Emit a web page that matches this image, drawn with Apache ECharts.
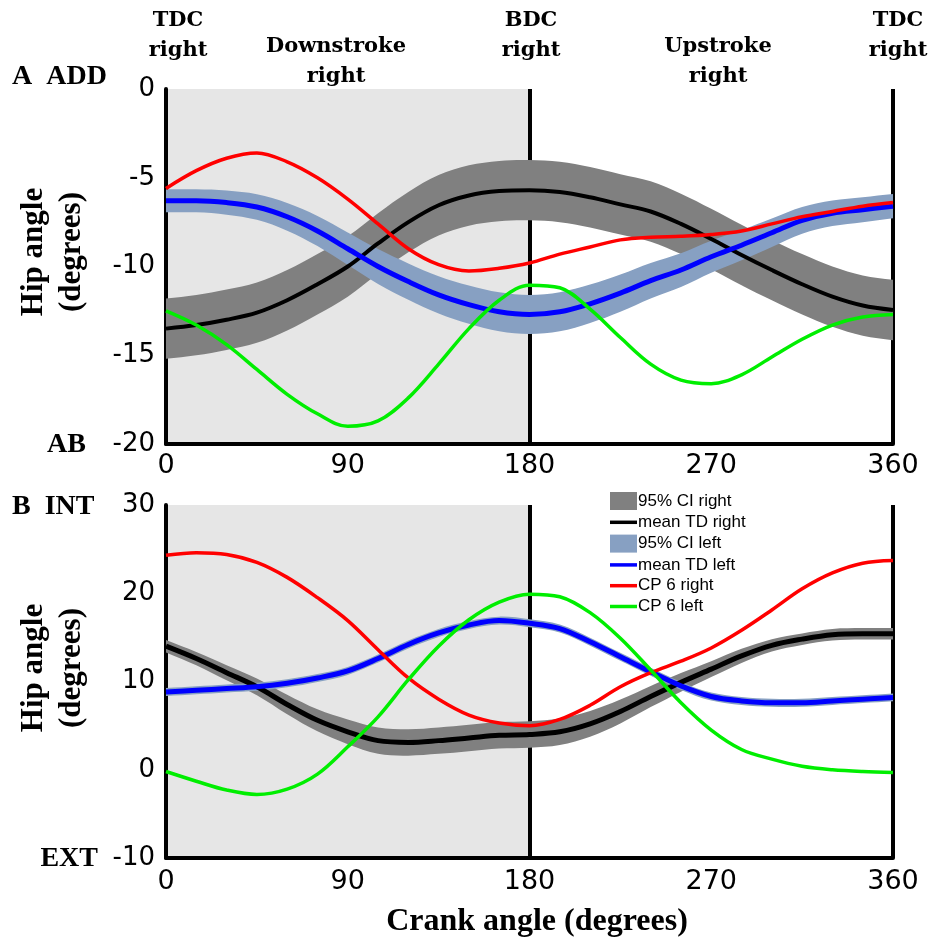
<!DOCTYPE html>
<html>
<head>
<meta charset="utf-8">
<script src="https://cdn.jsdelivr.net/npm/echarts@6/dist/echarts.min.js"></script>
<style>html,body{margin:0;padding:0;background:#fff;}#chart{width:936px;height:945px;}</style>
</head>
<body>
<div id="chart"></div>
<script>
// Crank angle samples (degrees)
const angles = [0,15,30,45,60,75,90,105,120,135,150,165,180,195,210,225,240,255,270,285,300,315,330,345,360];
const xTicks = [0, 90, 180, 270, 360];

// Panel A: ADD / AB (degrees)
const aMeanRight = [-13.5,-13.3,-13.0,-12.6,-11.9,-11.0,-10.0,-8.7,-7.5,-6.55,-6.0,-5.75,-5.7,-5.8,-6.1,-6.5,-6.9,-7.6,-8.45,-9.35,-10.2,-11.0,-11.7,-12.2,-12.45];
const aCIRightHalf = [1.7,1.7,1.7,1.7,1.7,1.7,1.7,1.7,1.7,1.7,1.7,1.7,1.7,1.7,1.7,1.7,1.7,1.7,1.7,1.7,1.7,1.7,1.7,1.7,1.7];
const aMeanLeft = [-6.3,-6.3,-6.4,-6.65,-7.2,-8.0,-9.0,-10.0,-10.85,-11.6,-12.15,-12.55,-12.7,-12.55,-12.1,-11.5,-10.8,-10.2,-9.45,-8.8,-8.1,-7.4,-7.0,-6.8,-6.6];
const aCILeftHalf = [0.65,0.65,0.68,0.72,0.78,0.85,0.92,0.98,1.02,1.05,1.08,1.1,1.1,1.1,1.08,1.05,1.0,0.95,0.9,0.85,0.8,0.75,0.72,0.7,0.68];
const aCPRight = [-5.6,-4.6,-3.9,-3.6,-4.1,-5.0,-6.2,-7.6,-9.0,-9.9,-10.25,-10.1,-9.8,-9.3,-8.9,-8.5,-8.35,-8.3,-8.2,-8.0,-7.6,-7.2,-6.9,-6.6,-6.4];
const aCPLeft = [-12.5,-13.3,-14.4,-15.8,-17.2,-18.3,-19.0,-18.7,-17.4,-15.5,-13.5,-11.9,-11.05,-11.2,-12.4,-14.0,-15.5,-16.4,-16.6,-16.1,-15.1,-14.1,-13.3,-12.85,-12.7];

// Panel B: INT / EXT (degrees)
const bMeanRight = [14.0,12.6,11.0,9.4,7.4,5.6,4.3,3.3,3.1,3.3,3.6,3.9,4.0,4.3,5.2,6.6,8.3,9.9,11.4,12.9,14.1,14.8,15.3,15.4,15.4];
const bCIRightHalf = [0.7,0.75,0.85,0.95,1.1,1.25,1.4,1.5,1.5,1.5,1.5,1.5,1.5,1.5,1.45,1.35,1.2,1.05,0.9,0.8,0.7,0.65,0.65,0.65,0.65];
const bMeanLeft = [8.8,9.0,9.2,9.4,9.8,10.4,11.2,12.6,14.2,15.5,16.4,16.9,16.6,16.0,14.5,12.8,11.1,9.5,8.3,7.8,7.6,7.6,7.8,8.0,8.2];
const bCILeftHalf = [0.45,0.45,0.45,0.45,0.45,0.45,0.45,0.45,0.45,0.45,0.45,0.45,0.45,0.45,0.45,0.45,0.45,0.45,0.45,0.45,0.45,0.45,0.45,0.45,0.45];
const bCPRight = [24.3,24.6,24.4,23.5,21.8,19.5,16.9,13.6,10.4,8.0,6.2,5.3,5.0,5.7,7.3,9.4,11.0,12.3,13.8,15.8,18.1,20.5,22.3,23.4,23.7];
const bCPLeft = [-0.2,-1.3,-2.3,-2.8,-2.2,-0.5,2.6,6.0,10.2,14.0,17.0,19.0,19.9,19.6,17.8,14.9,11.3,7.6,4.5,2.3,1.2,0.4,0.0,-0.2,-0.3];

const pairs = ys => angles.map((a, i) => [a, ys[i]]);

const SM = 0.35;
const LINE_ICON = 'path://M0,0 L27,0 L27,3.5 L0,3.5 Z';

// smooth path segment through pixel points (same idea as line smoothing)
function smoothSegs(pts, s) {
  let d = '';
  const n = pts.length;
  const cps = pts.map((p, i) => {
    const prev = pts[Math.max(0, i - 1)], next = pts[Math.min(n - 1, i + 1)];
    const vx = next[0] - prev[0], vy = next[1] - prev[1];
    const l1 = Math.hypot(p[0] - prev[0], p[1] - prev[1]);
    const l2 = Math.hypot(next[0] - p[0], next[1] - p[1]);
    const tot = l1 + l2 || 1;
    const rN = l2 / tot, rP = l1 / tot;
    return {
      out: [p[0] + vx * s * rN, p[1] + vy * s * rN],
      inn: [p[0] - vx * s * rP, p[1] - vy * s * rP]
    };
  });
  for (let i = 0; i < n - 1; i++) {
    const a = cps[i].out, b = cps[i + 1].inn, q = pts[i + 1];
    d += ' C' + a[0].toFixed(2) + ',' + a[1].toFixed(2) + ' ' + b[0].toFixed(2) + ',' + b[1].toFixed(2) + ' ' + q[0].toFixed(2) + ',' + q[1].toFixed(2);
  }
  return d;
}

function bandSeries(idx, name, mean, half, color, extra) {
  const rows = angles.map((a, i) => [a, mean[i] - half[i], mean[i] + half[i]]);
  return Object.assign({
    type: 'custom', name: name, xAxisIndex: idx, yAxisIndex: idx, silent: true,
    itemStyle: { color: color },
    encode: { x: 0, y: [1, 2] },
    data: rows,
    renderItem: function (params, api) {
      if (params.dataIndex !== 0) return null;
      const top = rows.map(r => api.coord([r[0], r[2]]));
      const bot = rows.map(r => api.coord([r[0], r[1]])).reverse();
      const d = 'M' + top[0][0] + ',' + top[0][1] + smoothSegs(top, SM) +
        ' L' + bot[0][0] + ',' + bot[0][1] + smoothSegs(bot, SM) + ' Z';
      return { type: 'path', shape: { pathData: d }, style: { fill: color, stroke: null } };
    }
  }, extra || {});
}

function lineSeries(idx, name, ys, color, width) {
  return { type: 'line', name: name, xAxisIndex: idx, yAxisIndex: idx, symbol: 'none', smooth: SM, silent: true,
    data: pairs(ys), lineStyle: { color: color, width: width }, itemStyle: { color: color } };
}

function panelSeries(idx, meanR, hwR, meanL, hwL, cpR, cpL, lw) {
  return [
    bandSeries(idx, '95% CI right', meanR, hwR, '#808080', {
      markArea: { silent: true, z: 0, itemStyle: { color: '#e6e6e6' }, data: [[{ xAxis: 0 }, { xAxis: 180 }]] },
      markLine: { silent: true, z: 1, symbol: 'none', label: { show: false },
        lineStyle: { color: '#000', width: 4, type: 'solid' }, data: [{ xAxis: 180 }, { xAxis: 360 }] }
    }),
    lineSeries(idx, 'mean TD right', meanR, '#000000', lw),
    bandSeries(idx, '95% CI left', meanL, hwL, '#87a0c2'),
    lineSeries(idx, 'mean TD left', meanL, '#0000ff', 5),
    lineSeries(idx, 'CP 6 right', cpR, '#ff0000', 3.5),
    lineSeries(idx, 'CP 6 left', cpL, '#00ee00', 3.5)
  ];
}

const tickFont = { fontFamily: 'DejaVu Sans', color: '#000' };
function xAx(idx, margin) {
  return {
    gridIndex: idx, type: 'value', min: 0, max: 360, interval: 90, z: 1,
    axisLine: { show: true, onZero: false, lineStyle: { color: '#000', width: 4 } },
    axisTick: { show: false }, splitLine: { show: false },
    axisLabel: Object.assign({ fontSize: 27, margin: margin, formatter: v => xTicks.indexOf(v) >= 0 ? String(v) : '' }, tickFont)
  };
}
function yAx(idx, min, max, interval) {
  return {
    gridIndex: idx, type: 'value', min: min, max: max, interval: interval, z: 1,
    axisLine: { show: true, onZero: false, lineStyle: { color: '#000', width: 4 } },
    axisTick: { show: false }, splitLine: { show: false },
    axisLabel: Object.assign({ fontSize: 26, margin: 11 }, tickFont)
  };
}

const serifB = { fontFamily: 'DejaVu Serif', fontWeight: 'bold', fill: '#000' };
const timesB = { fontFamily: 'Liberation Serif', fontWeight: 'bold', fill: '#000' };
function txt(x, y, text, style, extra) {
  return Object.assign({ type: 'text', x: x, y: y, silent: true,
    style: Object.assign({ text: text, textAlign: 'center', textVerticalAlign: 'middle' }, style) }, extra || {});
}

const option = {
  animation: false,
  backgroundColor: '#fff',
  grid: [
    { left: 166, right: 43, top: 89, height: 355 },
    { left: 166, right: 43, top: 505, height: 353 }
  ],
  xAxis: [xAx(0, 8), xAx(1, 10)],
  yAxis: [yAx(0, -20, 0, 5), yAx(1, -10, 30, 10)],
  legend: {
    orient: 'vertical', left: 605, top: 487, itemWidth: 27, itemHeight: 18, itemGap: 3.8,
    selectedMode: false,
    textStyle: { fontFamily: 'Liberation Sans', fontSize: 17, color: '#000', padding: [0, 0, 0, -4] },
    data: [
      { name: '95% CI right', icon: 'rect', itemStyle: { color: '#808080', borderWidth: 0 } },
      { name: 'mean TD right', icon: LINE_ICON, itemStyle: { color: '#000', borderWidth: 0 } },
      { name: '95% CI left', icon: 'rect', itemStyle: { color: '#87a0c2', borderWidth: 0 } },
      { name: 'mean TD left', icon: LINE_ICON, itemStyle: { color: '#0000ff', borderWidth: 0 } },
      { name: 'CP 6 right', icon: LINE_ICON, itemStyle: { color: '#ff0000', borderWidth: 0 } },
      { name: 'CP 6 left', icon: LINE_ICON, itemStyle: { color: '#00ee00', borderWidth: 0 } }
    ]
  },
  graphic: [
    txt(178, 36, 'TDC\nright', Object.assign({ fontSize: 21, lineHeight: 30 }, serifB)),
    txt(336, 62, 'Downstroke\nright', Object.assign({ fontSize: 21, lineHeight: 30 }, serifB)),
    txt(531, 36, 'BDC\nright', Object.assign({ fontSize: 21, lineHeight: 30 }, serifB)),
    txt(718, 62, 'Upstroke\nright', Object.assign({ fontSize: 21, lineHeight: 30 }, serifB)),
    txt(898, 36, 'TDC\nright', Object.assign({ fontSize: 21, lineHeight: 30 }, serifB)),
    txt(12, 77, 'A  ADD', Object.assign({ fontSize: 28, textAlign: 'left' }, timesB)),
    txt(86, 445, 'AB', Object.assign({ fontSize: 28, textAlign: 'right' }, timesB)),
    txt(12, 507, 'B  INT', Object.assign({ fontSize: 28, textAlign: 'left' }, timesB)),
    txt(98, 859, 'EXT', Object.assign({ fontSize: 28, textAlign: 'right' }, timesB)),
    txt(53, 252, 'Hip angle\n(degrees)', Object.assign({ fontSize: 31, lineHeight: 38 }, timesB), { rotation: Math.PI / 2 }),
    txt(53, 668, 'Hip angle\n(degrees)', Object.assign({ fontSize: 31, lineHeight: 38 }, timesB), { rotation: Math.PI / 2 }),
    txt(537, 922, 'Crank angle (degrees)', Object.assign({ fontSize: 32 }, timesB))
  ],
  series: [].concat(
    panelSeries(0, aMeanRight, aCIRightHalf, aMeanLeft, aCILeftHalf, aCPRight, aCPLeft, 4),
    panelSeries(1, bMeanRight, bCIRightHalf, bMeanLeft, bCILeftHalf, bCPRight, bCPLeft, 5)
  )
};

const chart = echarts.init(document.getElementById('chart'), null, { renderer: 'canvas' });
chart.setOption(option);
</script>
</body>
</html>
